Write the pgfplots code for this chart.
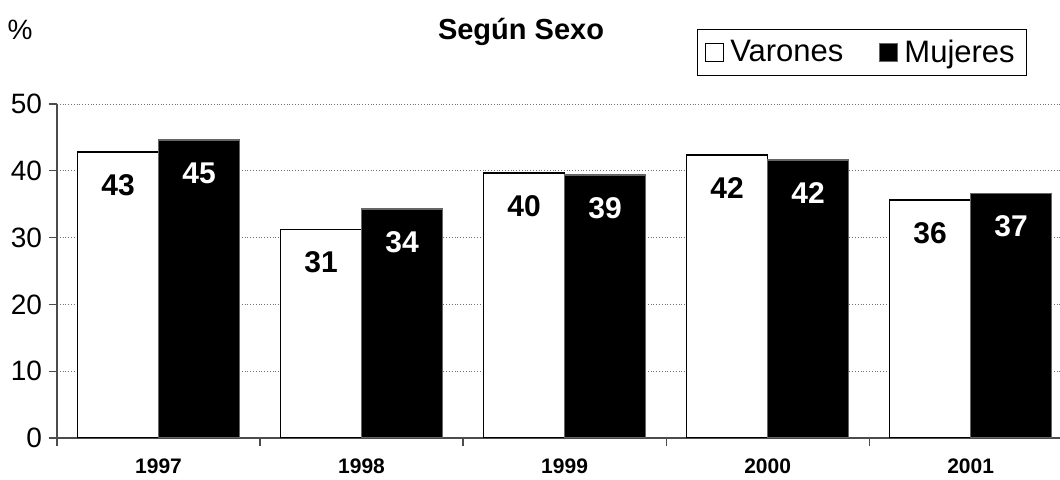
\documentclass[border=0pt]{standalone}
\usepackage{fontspec}
\setmainfont{Liberation Sans}
\usepackage{pgfplots}
\pgfplotsset{compat=1.18}
\begin{document}
\begin{tikzpicture}
\path[use as bounding box] (0,0) rectangle (530pt,240pt);
\clip (0,0) rectangle (530pt,240pt);
\begin{axis}[
  at={(28.5pt,21pt)}, anchor=south west,
  scale only axis, width=501.5pt, height=167pt,
  ybar=0pt, bar width=40.5pt,
  xmin=-0.5, xmax=4.44, ymin=0, ymax=50,
  ytick={0,10,...,50},
  xtick={-0.5,0.5,...,3.5}, xticklabels={,,,,,},
  extra x ticks={0,1,2,3,4},
  extra x tick labels={1997,1998,1999,2000,2001},
  extra x tick style={major tick length=0pt, grid=none},
  major tick length=4pt,
  tick align=outside,
  axis x line*=bottom, axis y line*=left,
  axis line style={black!70, line width=0.6pt},
  tick style={black!70, line width=0.6pt},
  ymajorgrids, grid style={densely dotted, black!55, line width=0.4pt},
  x tick label style={font=\bfseries\fontsize{10.5}{12}\selectfont, yshift=-7pt},
  y tick label style={font=\fontsize{14}{16}\selectfont},
  /pgf/number format/assume math mode=true,
  nodes near coords={\pgfmathprintnumber[fixed,precision=0]{\pgfplotspointmeta}},
  nodes near coords style={font=\bfseries\fontsize{15}{17}\selectfont, anchor=center, yshift=-16.5pt},
  legend columns=2,
  legend style={at={(0.8026,1.154)}, anchor=center, draw=black, line width=0.6pt,
    font=\fontsize{15.5}{17}\selectfont, inner xsep=4pt, inner ysep=3pt,
    /tikz/every even column/.append style={column sep=16pt},
    /tikz/every odd column/.append style={column sep=1pt}},
  legend image code/.code={\draw[#1, line width=0.5pt] (0pt,-4.5pt) rectangle (9pt,4.5pt);},
]
\addplot[draw=black, fill=white, line width=0.8pt]
  coordinates {(0,42.8)(1,31.2)(2,39.7)(3,42.4)(4,35.6)};
\addlegendentry{Varones}
\addplot[draw=black!60, fill=black, line width=0.8pt,
  every node near coord/.append style={text=white}]
  coordinates {(0,44.6)(1,34.3)(2,39.4)(3,41.6)(4,36.6)};
\addlegendentry{Mujeres}
\end{axis}
\node[font=\fontsize{14}{16}\selectfont] at (10pt,225pt) {\%};
\node[font=\bfseries\fontsize{14.5}{16}\selectfont] at (260.5pt,224pt) {Según Sexo};
\end{tikzpicture}
\end{document}
